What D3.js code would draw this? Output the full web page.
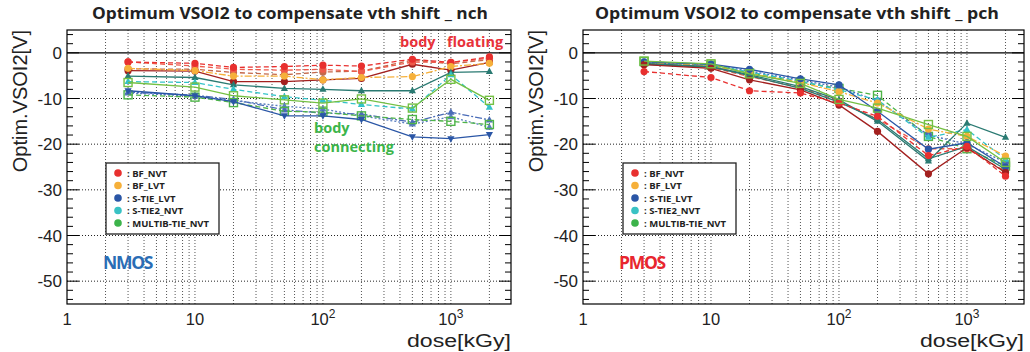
<!DOCTYPE html>
<html><head><meta charset="utf-8">
<script src="https://cdn.jsdelivr.net/npm/d3@7"></script>
<style>body{margin:0;background:#fff}svg{display:block}</style>
</head><body>
<svg id="c" width="1030" height="352"></svg>
<script>
const doses = [3, 10, 20, 50, 100, 200, 500, 1000, 2000];
const xTickLabels = ["1", "10", "10|2", "10|3"];
const yTicks = [0, -10, -20, -30, -40, -50];
const legendNames = ["BF_NVT", "BF_LVT", "S-TIE_LVT", "S-TIE2_NVT", "MULTIB-TIE_NVT"];
const legendColors = ["#e8302f", "#f6b03a", "#2a56a6", "#39c2c4", "#3cb34a"];

// nch series
const nchRed1    = [-2.0, -2.3, -3.2, -3.0, -2.7, -2.9, -1.4, -2.1, -0.9];
const nchRed2    = [-2.0, -2.9, -3.6, -3.8, -3.6, -4.1, -2.0, -2.1, -1.2];
const nchOrange  = [-3.4, -3.9, -5.1, -5.1, -5.9, -5.4, -5.2, -3.0, -2.3];
const nchDarkRed = [-3.9, -4.0, -6.3, -6.3, -5.9, -5.6, -2.5, -3.8, -2.1];
const nchBrown   = [-3.5, -3.6, -4.3, -4.8, -4.2, -4.0, -1.6, -2.4, -1.5];
const nchTeal    = [-5.1, -5.4, -7.0, -7.8, -8.0, -8.3, -8.3, -4.3, -4.1];
const nchCyan    = [-6.3, -6.5, -8.0, -9.6, -10.4, -11.3, -12.3, -4.8, -11.9];
const nchGreen   = [-6.5, -7.5, -9.4, -10.3, -11.0, -10.1, -12.1, -5.8, -10.4];
const nchBlue    = [-8.3, -9.4, -10.7, -13.8, -13.8, -14.6, -18.4, -18.8, -17.9];
const nchGreen2  = [-9.2, -9.7, -10.9, -12.8, -13.0, -13.8, -14.6, -15.0, -15.7];
const nchBlue2   = [-8.6, -9.3, -10.2, -12.5, -13.2, -13.4, -15.2, -13.0, -14.7];
const nchBlue3   = [-8.8, -9.5, -10.5, -11.7, -12.3, -13.8, -15.6, -14.0, -16.3];

// pch series
const pchRed1    = [-4.1, -5.4, -8.3, -8.8, -11.0, -13.9, -22.5, -20.5, -27.0];
const pchDarkRed = [-2.6, -3.4, -5.9, -8.1, -11.4, -17.2, -26.5, -20.8, -26.2];
const pchOrange  = [-2.2, -2.8, -4.5, -6.5, -8.5, -11.0, -16.7, -18.3, -22.6];
const pchBlue    = [-2.0, -2.5, -3.6, -5.7, -7.0, -12.8, -21.1, -19.7, -25.0];
const pchTeal    = [-2.3, -3.0, -4.8, -7.4, -10.3, -15.0, -23.7, -15.4, -18.5];
const pchCyan    = [-2.0, -2.6, -4.2, -6.2, -8.1, -10.3, -18.5, -16.8, -23.3];
const pchGreen   = [-1.8, -2.4, -4.6, -6.7, -10.2, -12.1, -15.7, -18.3, -24.0];
const pchGreen2  = [-1.9, -2.7, -4.4, -6.4, -7.8, -9.3, -18.3, -21.0, -24.8];
const pchBlue2   = [-2.2, -2.6, -4.0, -6.0, -7.5, -10.5, -18.0, -20.0, -24.0];
const pchRed2    = [-2.4, -3.2, -5.2, -7.6, -10.6, -14.5, -21.0, -21.0, -26.0];
const pchTeal2   = [-2.5, -3.1, -5.0, -7.8, -10.8, -14.6, -23.2, -20.5, -25.5];

const C = {red:"#e8302f", red2:"#ee5a4a", orange:"#f6b03a", darkred:"#a3201f", brown:"#c4684a",
  teal:"#2a7a72", cyan:"#33c3c8", green:"#74c043", blue:"#2a56a6", blue2:"#4a6cb8", blue3:"#5a7fc0", green2:"#4eb448"};
const DASH = {solid:null, dash:"5,3", dashdot:"7,2,2,2", dot:"2,2"};

const nchSeries = [
  {v:nchBrown, c:C.brown, d:"dash", m:"circle"},
  {v:nchDarkRed, c:C.darkred, d:"solid", m:"circle"},
  {v:nchRed2, c:C.red2, d:"dash", m:"circle"},
  {v:nchRed1, c:C.red, d:"dash", m:"circle"},
  {v:nchOrange, c:C.orange, d:"dashdot", m:"circle"},
  {v:nchTeal, c:C.teal, d:"solid", m:"tri"},
  {v:nchCyan, c:C.cyan, d:"dash", m:"tri"},
  {v:nchGreen, c:C.green, d:"solid", m:"square"},
  {v:nchBlue3, c:C.blue3, d:"dot", m:"tri"},
  {v:nchBlue2, c:C.blue2, d:"dashdot", m:"tri"},
  {v:nchGreen2, c:C.green2, d:"dash", m:"square"},
  {v:nchBlue, c:C.blue, d:"solid", m:"tridown"}
];
const pchSeries = [
  {v:pchGreen2, c:C.green2, d:"dash", m:"square"},
  {v:pchBlue2, c:C.blue2, d:"dot", m:"circle"},
  {v:pchCyan, c:C.cyan, d:"dash", m:"tri"},
  {v:pchOrange, c:C.orange, d:"dashdot", m:"circle"},
  {v:pchRed2, c:C.red2, d:"dash", m:"circle"},
  {v:pchTeal2, c:C.teal, d:"solid", m:"tri"},
  {v:pchTeal, c:C.teal, d:"solid", m:"tri"},
  {v:pchBlue, c:C.blue, d:"solid", m:"circle"},
  {v:pchDarkRed, c:C.darkred, d:"solid", m:"circle"},
  {v:pchRed1, c:C.red, d:"dash", m:"circle"},
  {v:pchGreen, c:C.green, d:"solid", m:"square"}
];

const svg = d3.select("#c");
const FONT = "'Liberation Sans', Arial, sans-serif";

function panel(opt) {
  const x = d3.scaleLog().domain([1, opt.xmax]).range([opt.x0, opt.x1]);
  const y = d3.scaleLinear().domain([-55, 5]).range([304, 30]);
  const g = svg.append("g");
  const gridX = [];
  for (let dec = 1; dec <= 1000; dec *= 10) for (let k = 2; k <= 10; k++) { const v = dec * k; if (v < opt.xmax) gridX.push(v); }
  g.selectAll(".gx").data(gridX).join("line")
    .attr("x1", d => x(d)).attr("x2", d => x(d)).attr("y1", 30).attr("y2", 304)
    .attr("stroke", "#555").attr("stroke-width", 1).attr("stroke-dasharray", "1,2");
  g.selectAll(".gy").data(yTicks.filter(t => t !== 0)).join("line")
    .attr("x1", opt.x0).attr("x2", opt.x1).attr("y1", d => y(d)).attr("y2", d => y(d))
    .attr("stroke", "#222").attr("stroke-width", 1).attr("stroke-dasharray", "1,2");
  g.append("line").attr("x1", opt.x0).attr("x2", opt.x1).attr("y1", y(0)).attr("y2", y(0))
    .attr("stroke", "#000").attr("stroke-width", 1.2);
  g.append("rect").attr("x", opt.x0).attr("y", 30).attr("width", opt.x1 - opt.x0).attr("height", 274)
    .attr("fill", "none").attr("stroke", "#000").attr("stroke-width", 1.2);
  const ym = d3.range(-54, 6, 2);
  ym.forEach(t => {
    const L = t % 10 === 0 ? 12 : 6;
    g.append("line").attr("x1", opt.x0).attr("x2", opt.x0 + L).attr("y1", y(t)).attr("y2", y(t)).attr("stroke", "#000");
    g.append("line").attr("x1", opt.x1).attr("x2", opt.x1 - L).attr("y1", y(t)).attr("y2", y(t)).attr("stroke", "#000");
  });
  g.selectAll(".yl").data(yTicks).join("text")
    .attr("x", opt.x0 - 5).attr("y", d => y(d) + 6).attr("text-anchor", "end")
    .attr("font-family", FONT).attr("font-size", 17).attr("fill", "#222").text(d => d);
  const xt = [1, 10, 100, 1000];
  xt.forEach((v, i) => {
    const parts = xTickLabels[i].split("|");
    const t = g.append("text").attr("x", x(v)).attr("y", 325).attr("text-anchor", "middle")
      .attr("font-family", FONT).attr("font-size", 16.5).attr("fill", "#222");
    t.append("tspan").text(parts[0]);
    if (parts[1]) t.append("tspan").attr("dy", -7).attr("font-size", 12).text(parts[1]);
  });
  g.append("text").attr("x", opt.x1 - 104).attr("y", 347)
    .attr("textLength", 104).attr("lengthAdjust", "spacingAndGlyphs")
    .attr("font-family", FONT).attr("font-size", 18).attr("fill", "#222").text("dose[kGy]");
  g.append("text").attr("transform", `translate(${opt.x0 - 40},30) rotate(-90)`).attr("text-anchor", "end")
    .attr("font-family", FONT).attr("font-size", 20).attr("fill", "#222").text("Optim.VSOI2[V]");
  g.append("text").attr("x", opt.tx - opt.tw / 2).attr("y", 19)
    .attr("textLength", opt.tw).attr("lengthAdjust", "spacingAndGlyphs")
    .attr("font-family", "'Open Sans', sans-serif").attr("font-weight", "bold").attr("font-size", 15.5)
    .attr("fill", "#222").text(opt.title);
  const line = d3.line().x((d, i) => x(doses[i])).y(d => y(d));
  const sg = g.append("g");
  opt.series.forEach(s => {
    sg.append("path").datum(s.v).attr("d", line).attr("fill", "none").attr("stroke", s.c)
      .attr("stroke-width", 1.3).attr("stroke-dasharray", DASH[s.d]);
    s.v.forEach((v, i) => {
      const cx = x(doses[i]), cy = y(v);
      if (s.m === "circle") sg.append("circle").attr("cx", cx).attr("cy", cy).attr("r", 3.6).attr("fill", s.c);
      else if (s.m === "square") sg.append("rect").attr("x", cx - 4).attr("y", cy - 4).attr("width", 8).attr("height", 8)
        .attr("fill", "none").attr("stroke", s.c).attr("stroke-width", 1.4);
      else if (s.m === "tri") sg.append("path").attr("d", `M${cx},${cy - 4}L${cx + 3.6},${cy + 2.5}L${cx - 3.6},${cy + 2.5}Z`).attr("fill", s.c);
      else if (s.m === "tridown") sg.append("path").attr("d", `M${cx},${cy + 4}L${cx + 3.6},${cy - 2.5}L${cx - 3.6},${cy - 2.5}Z`).attr("fill", s.c);
    });
  });
  const lx = opt.lx, ly = 163;
  g.append("rect").attr("x", lx).attr("y", ly).attr("width", 113).attr("height", 71)
    .attr("fill", "#fff").attr("stroke", "#222").attr("stroke-width", 1.3);
  legendNames.forEach((n, i) => {
    const yy = ly + 10 + i * 12.5;
    g.append("circle").attr("cx", lx + 12).attr("cy", yy).attr("r", 3.8).attr("fill", legendColors[i]);
    g.append("text").attr("x", lx + 21).attr("y", yy + 3.5).attr("font-family", "'Open Sans', sans-serif")
      .attr("font-weight", "bold").attr("font-size", 9.5).attr("fill", "#222").text(": " + n);
  });
  g.append("text").attr("x", opt.x0 + 36).attr("y", 269).attr("font-family", "'Open Sans', sans-serif")
    .attr("font-weight", "bold").attr("font-size", 17.5).attr("letter-spacing", -1.3)
    .attr("fill", opt.typeColor).text(opt.type);
  return {x, y, g};
}

const left = panel({x0: 67, x1: 511, xmax: 2950, tx: 290, tw: 396, title: "Optimum VSOI2 to compensate vth shift _ nch",
  series: nchSeries, lx: 106, type: "NMOS", typeColor: "#2a6db5"});
const right = panel({x0: 583, x1: 1024, xmax: 2790, tx: 797, tw: 404, title: "Optimum VSOI2 to compensate vth shift _ pch",
  series: pchSeries, lx: 623, type: "PMOS", typeColor: "#e8262e"});

function ann(g, x, y, txt, col) {
  g.append("text").attr("x", x).attr("y", y).attr("font-family", "'Open Sans', sans-serif").attr("font-weight", "bold")
    .attr("font-size", 14.5).attr("fill", col).text(txt);
}
ann(left.g, 400, 47, "body", "#e8323a");
ann(left.g, 447, 47, "floating", "#e8323a");
ann(left.g, 314, 133, "body", "#3cb54a");
ann(left.g, 314, 152, "connecting", "#3cb54a");
</script>
</body></html>
